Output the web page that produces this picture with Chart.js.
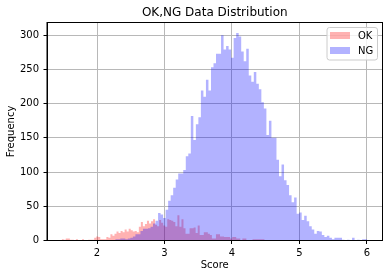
<!DOCTYPE html>
<html>
<head>
<meta charset="utf-8">
<script src="https://cdn.jsdelivr.net/npm/chart.js@4.4.0/dist/chart.umd.min.js"></script>
<style>
    html, body { margin: 0; padding: 0; background: #ffffff; }
</style>
</head>
<body>
<canvas id="chart" width="389" height="278"></canvas>
<script>
// histogram counts, 100 bins each
const okCounts = [
    2, 1, 3, 3, 1, 1, 0, 2, 0, 0,
    2, 0, 0, 1, 1, 1, 4, 6, 5, 2,
    2, 2, 5, 4, 9, 7, 10, 13, 11, 14,
    12, 16, 13, 17, 15, 13, 14, 12, 20, 27,
    21, 24, 29, 25, 28, 31, 23, 21, 30, 26,
    22, 20, 31, 30, 29, 27, 21, 37, 20, 31,
    18, 10, 10, 18, 18, 19, 11, 22, 8, 8,
    12, 12, 10, 8, 3, 3, 9, 9, 6, 6,
    5, 5, 5, 3, 5, 5, 3, 3, 0, 3,
    3, 0, 0, 0, 2, 2, 2, 2, 2, 2
];
const ngCounts = [
    2, 2, 3, 3, 2, 3, 4, 6, 9, 9,
    14, 17, 17, 18, 20, 25, 29, 40, 38, 33,
    45, 58, 66, 77, 89, 98, 98, 103, 123, 127,
    182, 147, 170, 180, 219, 210, 235, 219, 253, 259,
    273, 273, 300, 279, 284, 279, 267, 296, 303, 298,
    276, 262, 280, 241, 232, 246, 229, 221, 202, 193,
    154, 175, 150, 150, 118, 94, 111, 88, 81, 66,
    56, 63, 39, 41, 30, 36, 28, 21, 16, 10,
    14, 13, 8, 5, 7, 4, 2, 4, 4, 4,
    1, 0, 1, 0, 4, 0, 1, 0, 2, 2
];
// bin edges: first edge and bin width
const okStart = 1.477, okWidth = 0.03007;
const ngStart = 2.270, ngWidth = 0.03733;

const xTicks = [2, 3, 4, 5, 6];
const yTicks = [0, 50, 100, 150, 200, 250, 300];

Chart.defaults.font.family = 'DejaVu Sans';
Chart.defaults.font.size = 10;
Chart.defaults.color = '#000000';

// one point per left bin edge, plus the closing right edge
function toSteps(counts, start, width) {
    const pts = counts.map((c, i) => ({ x: start + i * width, y: c }));
    pts.push({ x: start + counts.length * width, y: counts[counts.length - 1] });
    return pts;
}

const okColor = 'rgba(255, 0, 0, 0.3)';
const ngColor = 'rgba(0, 0, 255, 0.3)';

const frame = {
    id: 'frame',
    afterDraw(chart) {
        const ctx = chart.ctx;
        const a = chart.chartArea;
        ctx.save();
        ctx.strokeStyle = '#000000';
        ctx.lineWidth = 1;
        ctx.strokeRect(a.left, a.top, a.right - a.left, a.bottom - a.top);

        // legend box, top right inside the plot
        const bx = 327, by = 27.5, bw = 50.5, bh = 32.5, r = 2.5;
        ctx.beginPath();
        ctx.moveTo(bx + r, by);
        ctx.arcTo(bx + bw, by, bx + bw, by + bh, r);
        ctx.arcTo(bx + bw, by + bh, bx, by + bh, r);
        ctx.arcTo(bx, by + bh, bx, by, r);
        ctx.arcTo(bx, by, bx + bw, by, r);
        ctx.closePath();
        ctx.fillStyle = 'rgba(255, 255, 255, 0.8)';
        ctx.fill();
        ctx.strokeStyle = '#cccccc';
        ctx.stroke();

        const items = [['OK', okColor], ['NG', ngColor]];
        items.forEach(([label, color], i) => {
            const y = by + 4.5 + i * 15;
            ctx.fillStyle = color;
            ctx.fillRect(bx + 3, y, 20, 7);
            ctx.fillStyle = '#000000';
            ctx.font = '10px "DejaVu Sans"';
            ctx.textBaseline = 'middle';
            ctx.textAlign = 'left';
            ctx.fillText(label, bx + 31, y + 4);
        });
        ctx.restore();
    }
};

new Chart(document.getElementById('chart'), {
    type: 'line',
    data: {
        datasets: [
            {
                label: 'OK',
                data: toSteps(okCounts, okStart, okWidth),
                stepped: true,
                fill: 'origin',
                backgroundColor: okColor,
                borderColor: 'transparent',
                borderWidth: 0,
                pointRadius: 0,
                order: 1
            },
            {
                label: 'NG',
                data: toSteps(ngCounts, ngStart, ngWidth),
                stepped: true,
                fill: 'origin',
                backgroundColor: ngColor,
                borderColor: 'transparent',
                borderWidth: 0,
                pointRadius: 0,
                order: 0
            }
        ]
    },
    options: {
        responsive: false,
        animation: false,
        devicePixelRatio: 1,
        layout: { padding: { left: 0, right: 6.5, top: 0, bottom: 0 } },
        plugins: {
            legend: { display: false },
            tooltip: { enabled: false },
            title: {
                display: true,
                fullSize: false,
                text: 'OK,NG Data Distribution',
                color: '#000000',
                font: { size: 12, weight: 'normal' },
                padding: { top: 5.5, bottom: 2.6 }
            }
        },
        scales: {
            x: {
                type: 'linear',
                min: 1.259,
                max: 6.23,
                z: 1,
                afterBuildTicks: (s) => { s.ticks = xTicks.map(v => ({ value: v })); },
                afterFit: (s) => { s.height = 37.5; },
                ticks: { padding: 3, maxRotation: 0, callback: (v) => String(v) },
                grid: { color: '#b8b8b8', lineWidth: 1, tickLength: 3.5, tickColor: '#000000', tickWidth: 1 },
                border: { display: true, color: '#000000', width: 1 },
                title: { display: true, text: 'Score', padding: { top: 0, bottom: 6.3 } }
            },
            y: {
                type: 'linear',
                min: 0,
                max: 318.5,
                z: 1,
                afterBuildTicks: (s) => { s.ticks = yTicks.map(v => ({ value: v })); },
                afterFit: (s) => { s.width = 47; },
                ticks: { padding: 4.5, callback: (v) => String(v) },
                grid: { color: '#b8b8b8', lineWidth: 1, tickLength: 3.5, tickColor: '#000000', tickWidth: 1 },
                border: { display: true, color: '#000000', width: 1 },
                title: { display: true, text: 'Frequency', padding: { top: 5, bottom: 0 } }
            }
        }
    },
    plugins: [frame]
});
</script>
</body>
</html>
